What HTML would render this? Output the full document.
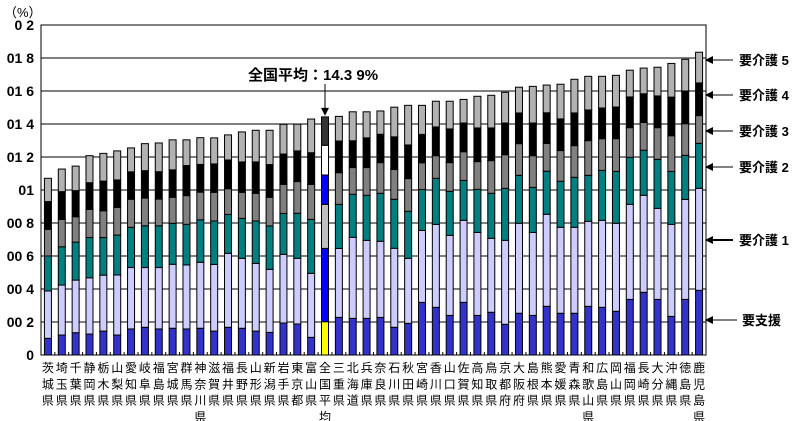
<!DOCTYPE html>
<html><head><meta charset="utf-8">
<style>
body{margin:0;background:#fff;}
svg{display:block;font-family:"Liberation Sans","Noto Sans CJK JP",sans-serif;}
</style></head>
<body>
<svg id="chart" width="797" height="421" viewBox="0 0 797 421">
<text x="4" y="17" font-size="13">（%）</text>
<g id="grid"></g>
<g id="ylabels"></g>
<g id="bars"></g>
<g id="xlabels"></g>
<g id="notes"></g>
</svg>
<script>
const categories=["茨城県","埼玉県","千葉県","静岡県","栃木県","山梨県","愛知県","岐阜県","福島県","宮城県","群馬県","神奈川県","滋賀県","福井県","長野県","山形県","新潟県","岩手県","東京都","富山県","全国平均","三重県","北海道","兵庫県","奈良県","石川県","秋田県","宮崎県","香川県","山口県","佐賀県","高知県","鳥取県","京都府","大阪府","島根県","熊本県","愛媛県","青森県","和歌山県","広島県","岡山県","福岡県","長崎県","大分県","沖縄県","徳島県","鹿児島県"];
const yoshien=[1.01,1.21,1.35,1.27,1.45,1.21,1.58,1.68,1.58,1.62,1.58,1.62,1.45,1.68,1.62,1.45,1.37,1.94,1.88,1.07,2.02,2.28,2.22,2.22,2.28,1.68,1.92,3.19,2.89,2.40,3.19,2.40,2.59,1.86,2.53,2.40,2.95,2.53,2.53,2.95,2.89,2.65,3.37,3.80,3.37,2.34,3.37,3.92];
const kaigo1=[2.87,3.03,3.19,3.41,3.39,3.64,3.72,3.62,3.72,3.88,3.88,4.00,4.04,4.48,4.24,4.10,3.82,4.16,3.98,3.88,4.44,4.18,4.91,4.73,4.61,4.79,3.94,4.36,5.03,4.85,4.97,5.03,4.48,5.09,5.45,5.03,5.58,5.21,5.21,5.15,5.27,5.33,5.76,5.88,5.52,5.58,6.06,6.18];
const kaigo2=[2.12,2.32,2.30,2.44,2.28,2.42,2.44,2.53,2.53,2.48,2.46,2.57,2.63,2.36,2.42,2.57,2.63,2.48,2.73,3.27,2.67,2.67,2.61,2.73,2.91,2.97,2.85,2.48,2.79,2.67,2.42,2.61,2.73,3.15,2.91,2.73,2.61,2.79,3.03,2.79,3.03,3.15,2.85,2.73,2.97,3.21,2.67,2.73];
const kaigo3=[1.62,1.66,1.54,1.70,1.62,1.68,1.70,1.68,1.62,1.58,1.74,1.68,1.74,1.56,1.58,1.68,1.74,1.76,1.92,2.12,1.78,1.92,1.62,1.68,1.86,1.80,1.98,1.62,1.37,1.74,1.74,1.68,1.98,2.04,1.92,1.92,1.68,1.86,1.92,2.10,1.92,1.98,1.80,1.68,1.92,2.16,1.92,1.68];
const kaigo4=[1.68,1.68,1.58,1.62,1.80,1.66,1.66,1.66,1.66,1.66,1.82,1.68,1.72,1.74,1.84,1.90,1.98,1.84,1.86,1.92,1.80,1.92,1.62,1.80,1.72,1.98,2.04,1.72,1.74,2.04,1.74,2.04,1.98,1.92,1.86,1.98,1.86,1.92,1.98,1.86,1.86,1.92,1.86,1.74,1.92,2.34,1.98,1.98];
const kaigo5=[1.41,1.37,1.49,1.64,1.68,1.76,1.45,1.64,1.74,1.82,1.56,1.62,1.58,1.52,1.82,1.92,2.08,1.80,1.62,2.04,1.72,1.49,1.76,1.58,1.41,1.80,2.40,1.76,1.56,1.68,1.43,1.92,1.98,1.86,1.56,2.22,1.68,2.10,2.04,2.04,1.92,1.92,1.62,1.56,1.74,2.04,1.92,1.86];
const yTicks=[0,2,4,6,8,10,12,14,16,18,20];
const yTickLabels=["0","00 2","00 4","00 6","00 8","01","01 2","01 4","01 6","01 8","0 2"];
const seriesNames=["要支援","要介護 1","要介護 2","要介護 3","要介護 4","要介護 5"];

const NS="http://www.w3.org/2000/svg";
const L=41,R=706,T=25,B=355,YMAX=20;
const slot=(R-L)/categories.length;
function y(v){return B-(v/YMAX)*(B-T);}
function xc(i){return L+slot*(i+0.5);}
function mk(tag,attrs,parent){const e=document.createElementNS(NS,tag);for(const k in attrs)e.setAttribute(k,attrs[k]);parent.appendChild(e);return e;}
const grid=document.getElementById('grid');
yTicks.forEach((t,i)=>{
  const ln=mk('line',{x1:L,x2:R,y1:y(t),y2:y(t),stroke:'#000','stroke-width':1},grid);
  
  
  const tx=mk('text',{x:34,y:y(t)+5,'text-anchor':'end','font-size':14,'font-weight':'bold'},document.getElementById('ylabels'));
  tx.textContent=yTickLabels[i];
  
  
});
const frame=mk('rect',{x:L,y:T,width:R-L,height:B-T,fill:'none',stroke:'#000'},grid);


for(let i=0;i<=categories.length;i++){
  const tk=mk('line',{x1:L+slot*i,x2:L+slot*i,y1:B,y2:B-3,stroke:'#000'},grid);
  
  
}
const series=[yoshien,kaigo1,kaigo2,kaigo3,kaigo4,kaigo5];
const colors=['#3333cc','#ccccff','#008080','#808080','#000000','#b2b2b2'];
const natColors=['#ffff00','#0000ff','#c0c0c0','#0000ff','#ffffff','#333333'];
const bars=document.getElementById('bars');
const bw=7;
categories.forEach((c,i)=>{
  let cum=0;
  const isNat=c==="全国平均";
  series.forEach((s,k)=>{
    const v=s[i];
    const r=mk('rect',{x:xc(i)-bw/2,y:y(cum+v),width:bw,height:y(cum)-y(cum+v),fill:(isNat?natColors:colors)[k],stroke:'#000','stroke-width':1},bars);
    
    
    cum+=v;
  });
  const xl=document.getElementById('xlabels');
  [...c].forEach((ch,j)=>{
    const t=mk('text',{x:xc(i),y:372+j*16.3,'text-anchor':'middle','font-size':12},xl);
    t.textContent=ch;
    
    
  });
});
// annotations
const notes=document.getElementById('notes');
const natIdx=categories.indexOf("全国平均");
let natTot=0;series.forEach(s=>natTot+=s[natIdx]);
const nt=mk('text',{x:248,y:80,'font-size':15,'font-weight':'bold'},notes);
nt.textContent="全国平均：14.3 9%";


const nx=xc(natIdx);
const nl=mk('line',{x1:nx,x2:nx,y1:84,y2:y(natTot)-8,stroke:'#000','stroke-width':1},notes);


const nh=mk('polygon',{points:`${nx-4},${y(natTot)-9} ${nx+4},${y(natTot)-9} ${nx},${y(natTot)-1}`,fill:'#000'},notes);


const last=categories.length-1;
let cum=0;
const labelYs=[];
series.forEach((s,k)=>{
  const mid=y(cum+s[last]/2);cum+=s[last];labelYs.push(mid);
});
const labelY=[320,240,167,131,95,60];
seriesNames.forEach((n,k)=>{
  const ly=labelY[k];
  const a=mk('line',{x1:712,x2:(k===0?737:733),y1:ly,y2:ly,stroke:'#000','stroke-width':(k===1?2:1)},notes);
  
  
  const h=mk('polygon',{points:`705,${ly} 713,${ly-4} 713,${ly+4}`,fill:'#000'},notes);
  
  
  const t=mk('text',{x:(k===0?742:739),y:ly+5,'font-size':13,'font-weight':'bold'},notes);
  t.textContent=n;
  
  
});
</script>
</body></html>
